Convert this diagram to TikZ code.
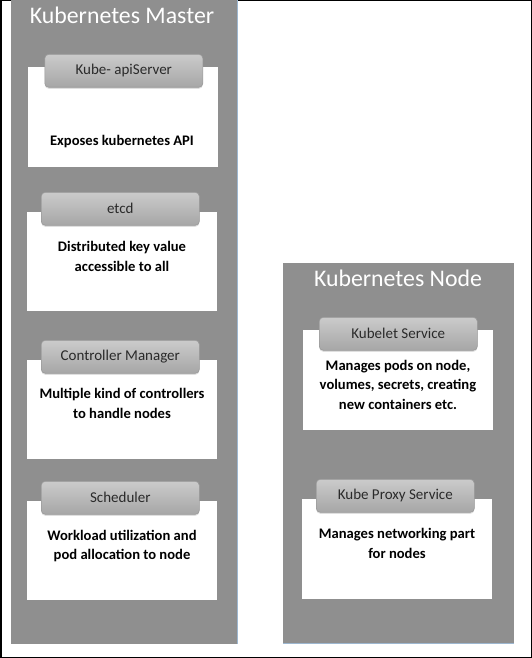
\documentclass[tikz,border=0pt]{standalone}
\usepackage{fontspec}
\setmainfont{Carlito}
\usetikzlibrary{shadows}
\definecolor{panelgray}{HTML}{8F8F8F}
\definecolor{tabtop}{HTML}{CBCBCB}
\definecolor{tabbot}{HTML}{A6A6A6}
\definecolor{tabborder}{HTML}{9A9A9A}
\definecolor{tabtext}{HTML}{2A2A2A}
\definecolor{edgeblue}{HTML}{9DB7D0}
\tikzset{
  panel/.style={fill=panelgray, draw=none, inner sep=0pt, anchor=north west},
  bodybox/.style={fill=white, draw=none, inner sep=0pt, anchor=north west},
  tab/.style={rounded corners=4pt, top color=tabtop, bottom color=tabbot, draw=tabborder,
    line width=0.6pt, inner sep=0pt, anchor=north west, minimum width=158pt, minimum height=33pt,
    font=\fontsize{15}{17}\selectfont, text=tabtext,
    drop shadow={opacity=0.25, shadow xshift=0pt, shadow yshift=-1.5pt}},
  bodytext/.style={font=\bfseries\fontsize{14.6}{19.5}\selectfont, align=center, inner sep=0pt, anchor=base, text=black},
  paneltitle/.style={font=\fontsize{23.8}{26}\selectfont, text=white, inner sep=0pt, anchor=base}
}
\begin{document}
\begin{tikzpicture}[x=1pt,y=-1pt]
\useasboundingbox (0,0) rectangle (532,658);
\draw[line width=1.5pt, black] (0.75,0.75) rectangle (531.25,657.25);
% panels
\node[panel, minimum width=226pt, minimum height=644pt] (master) at (11,0) {};
\node[panel, minimum width=231pt, minimum height=380pt] (kn) at (283,263) {};
\draw[edgeblue, line width=0.6pt] (master.north east) -- (master.south east);
\draw[edgeblue, line width=0.6pt] (kn.south west) -- (kn.south east);
\node[paneltitle] (mtitle) at (122,24) {Kubernetes Master};
\node[paneltitle] (ntitle) at (398,286) {Kubernetes Node};
% master boxes
\node[bodybox, minimum width=190pt, minimum height=100pt] (b1) at (27.5,67) {};
\node[tab] (t1) at (44.5,54) {Kube- apiServer};
\node[bodytext] (x1) at (122,146) {Exposes kubernetes API};

\node[bodybox, minimum width=190pt, minimum height=99pt] (b2) at (27,212) {};
\node[tab] (t2) at (41,192) {etcd};
\node[bodytext] (x2) at (122,271) {Distributed key value\\accessible to all};

\node[bodybox, minimum width=190pt, minimum height=99pt] (b3) at (27,360) {};
\node[tab] (t3) at (41,340) {Controller Manager};
\node[bodytext] (x3) at (122,418) {Multiple kind of controllers\\to handle nodes};

\node[bodybox, minimum width=190pt, minimum height=99pt] (b4) at (27,501) {};
\node[tab] (t4) at (41,481) {Scheduler};
\node[bodytext] (x4) at (122,559.5) {Workload utilization and\\pod allocation to node};
% node boxes
\node[bodybox, minimum width=190pt, minimum height=100pt] (b5) at (303,330) {};
\node[tab] (t5) at (319,317) {Kubelet Service};
\node[bodytext] (x5) at (398,409) {Manages pods on node,\\volumes, secrets, creating\\new containers etc.};

\node[bodybox, minimum width=190pt, minimum height=100pt] (b6) at (302,499) {};
\node[tab] (t6) at (316,479) {Kube Proxy Service};
\node[bodytext] (x6) at (397,558) {Manages networking part\\for nodes};
\end{tikzpicture}
\end{document}
